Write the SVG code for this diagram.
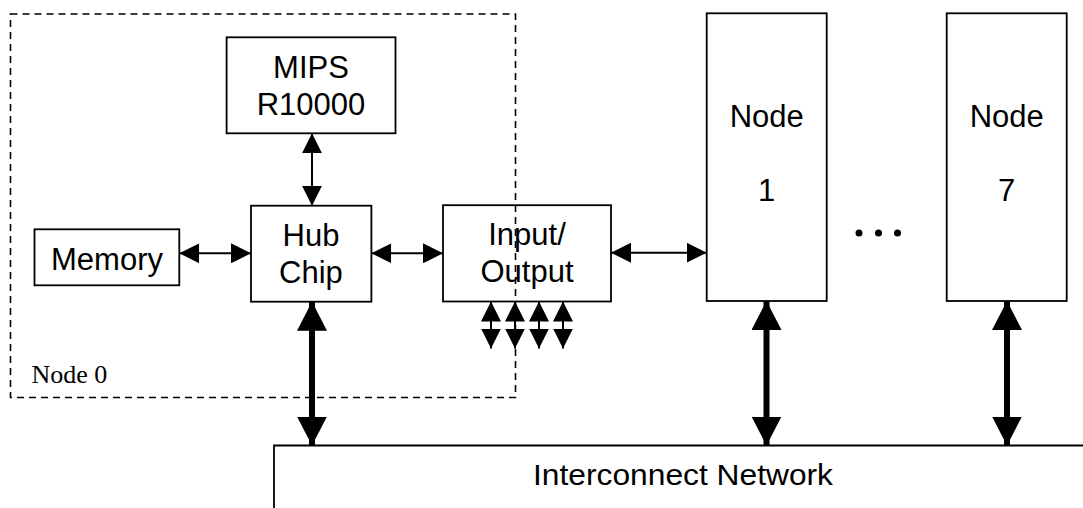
<svg xmlns="http://www.w3.org/2000/svg" width="1083" height="508" viewBox="0 0 1083 508">
<style>
.box{fill:#fff;stroke:#000;stroke-width:1.8}
.lbl{font-family:"Liberation Sans",Arial,sans-serif;font-size:31px;fill:#000;text-anchor:middle}
.thin{stroke:#000;stroke-width:2;fill:none}
.thick{stroke:#000;stroke-width:6;fill:none}
</style>
<defs>
<marker id="hs" viewBox="0 0 20 20" refX="20" refY="10" markerWidth="20" markerHeight="20" markerUnits="userSpaceOnUse" orient="auto-start-reverse">
<path d="M0,0 L20,10 L0,20 z" fill="#000"/>
</marker>
<marker id="hl" viewBox="0 0 29 30" refX="29" refY="15" markerWidth="29" markerHeight="30" markerUnits="userSpaceOnUse" orient="auto-start-reverse">
<path d="M0,0 L29,15 L0,30 z" fill="#000"/>
</marker>
</defs>
<g id="mips">
<rect class="box" x="226.6" y="37.3" width="168.9" height="96"/>
<text class="lbl" x="311" y="78">MIPS</text>
<text class="lbl" x="311" y="115">R10000</text>
</g>
<g id="memory">
<rect class="box" x="34.5" y="229.3" width="144.8" height="56"/>
<text class="lbl" x="107" y="270">Memory</text>
</g>
<g id="hub">
<rect class="box" x="251" y="205.7" width="120.4" height="96"/>
<text class="lbl" x="311" y="246">Hub</text>
<text class="lbl" x="311" y="283">Chip</text>
</g>
<g id="io">
<rect class="box" x="443" y="205.2" width="168" height="96.3"/>
<text class="lbl" x="527" y="245">Input/</text>
<text class="lbl" x="527" y="282">Output</text>
</g>
<g id="node1">
<rect class="box" x="706.7" y="13.3" width="120" height="287.7"/>
<text class="lbl" x="766.7" y="127">Node</text>
<text class="lbl" x="766.7" y="200.5">1</text>
</g>
<g id="node7">
<rect class="box" x="946.7" y="13.3" width="120" height="287.7"/>
<text class="lbl" x="1006.7" y="127">Node</text>
<text class="lbl" x="1006.7" y="200.5">7</text>
</g>
<g id="ellipsis">
<circle cx="859" cy="233" r="3.5" fill="#000"/>
<circle cx="878.5" cy="233" r="3.5" fill="#000"/>
<circle cx="897.5" cy="233" r="3.5" fill="#000"/>
</g>
<g id="interconnect">
<path d="M274,510 V445.5 H1086" fill="#fff" stroke="#000" stroke-width="1.8"/>
<text x="683" y="485" font-family="'Liberation Sans',Arial,sans-serif" font-size="29" text-anchor="middle" textLength="300" lengthAdjust="spacingAndGlyphs" fill="#000">Interconnect Network</text>
</g>
<g id="node0-frame">
<rect x="10.5" y="14" width="505" height="383.5" fill="none" stroke="#000" stroke-width="1.6" stroke-dasharray="7,5"/>
<text x="31.5" y="383" font-family="'Liberation Serif','Times New Roman',serif" font-size="26" fill="#000">Node 0</text>
</g>
<g id="connectors">
<line class="thin" x1="312" y1="133.3" x2="312" y2="205.7" marker-start="url(#hs)" marker-end="url(#hs)"/>
<line class="thin" x1="179.3" y1="253.3" x2="251" y2="253.3" marker-start="url(#hs)" marker-end="url(#hs)"/>
<line class="thin" x1="371.4" y1="253.3" x2="443" y2="253.3" marker-start="url(#hs)" marker-end="url(#hs)"/>
<line class="thin" x1="611" y1="252.7" x2="706.7" y2="252.7" marker-start="url(#hs)" marker-end="url(#hs)"/>
<line class="thin" x1="491" y1="301.5" x2="491" y2="348.5" marker-start="url(#hs)" marker-end="url(#hs)"/>
<line class="thin" x1="515" y1="301.5" x2="515" y2="348.5" marker-start="url(#hs)" marker-end="url(#hs)"/>
<line class="thin" x1="539" y1="301.5" x2="539" y2="348.5" marker-start="url(#hs)" marker-end="url(#hs)"/>
<line class="thin" x1="563" y1="301.5" x2="563" y2="348.5" marker-start="url(#hs)" marker-end="url(#hs)"/>
<line class="thick" x1="312" y1="301.7" x2="312" y2="445.5" marker-start="url(#hl)" marker-end="url(#hl)"/>
<line class="thick" x1="766.5" y1="301" x2="766.5" y2="445.5" marker-start="url(#hl)" marker-end="url(#hl)"/>
<line class="thick" x1="1007" y1="301" x2="1007" y2="445.5" marker-start="url(#hl)" marker-end="url(#hl)"/>
</g>
</svg>
